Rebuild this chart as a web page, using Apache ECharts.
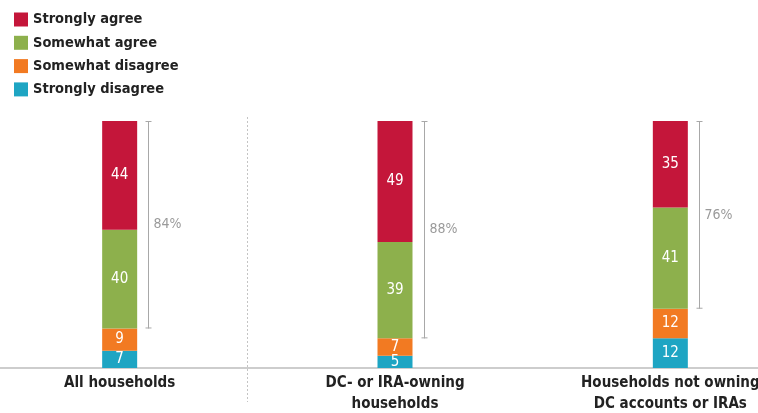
<!DOCTYPE html>
<html>
<head>
<meta charset="utf-8">
<script src="https://cdn.jsdelivr.net/npm/echarts@6/dist/echarts.min.js"></script>
<style>
html,body{margin:0;padding:0;background:#fff;}
#chart{width:758px;height:413px;}
</style>
</head>
<body>
<div id="chart"></div>
<script>
const categories = ['All households', 'DC- or IRA-owning\nhouseholds', 'Households not owning\nDC accounts or IRAs'];
const stronglyAgree = [44, 49, 35];
const somewhatAgree = [40, 39, 41];
const somewhatDisagree = [9, 7, 12];
const stronglyDisagree = [7, 5, 12];
const seriesNames = ['Strongly agree', 'Somewhat agree', 'Somewhat disagree', 'Strongly disagree'];
const colors = {
  'Strongly agree': '#C4163A',
  'Somewhat agree': '#8DB04C',
  'Somewhat disagree': '#F27A22',
  'Strongly disagree': '#1EA5C3'
};

const FONT = '"Liberation Sans Narrow", "DejaVu Sans Condensed", "Roboto", sans-serif';
const BAR_W = 35;

const agreeTotals = stronglyAgree.map((v, i) => v + somewhatAgree[i]);
const bracketData = categories.map((c, i) => [i, 100, 100 - agreeTotals[i], agreeTotals[i] + '%']);

function barSeries(name, data) {
  return {
    name: name,
    type: 'bar',
    stack: 'total',
    barWidth: BAR_W,
    data: data,
    itemStyle: { color: colors[name] },
    label: {
      show: true,
      position: 'inside',
      color: '#fff',
      fontSize: 15,
      fontFamily: FONT,
      formatter: '{c}'
    },
    emphasis: { disabled: true }
  };
}

const chart = echarts.init(document.getElementById('chart'));
chart.setOption({
  animation: false,
  backgroundColor: '#fff',
  legend: {
    data: seriesNames,
    orient: 'vertical',
    left: 9,
    top: 7,
    itemWidth: 14,
    itemHeight: 14,
    itemGap: 8.3,
    icon: 'rect',
    selectedMode: false,
    textStyle: { fontSize: 14.5, color: '#222', fontFamily: FONT, fontWeight: 'bold' }
  },
  grid: { left: -18, width: 826, top: 121, bottom: 45, outerBoundsMode: 'none' },
  xAxis: {
    type: 'category',
    data: categories,
    axisLine: { lineStyle: { color: '#bdbdbd', width: 1.5 } },
    axisTick: { show: false },
    axisLabel: {
      color: '#222',
      fontSize: 15,
      fontFamily: FONT,
      fontWeight: 'bold',
      lineHeight: 21,
      margin: 5,
      interval: 0
    }
  },
  yAxis: { type: 'value', min: 0, max: 100, show: false, splitLine: { show: false } },
  series: [
    barSeries('Strongly disagree', stronglyDisagree),
    barSeries('Somewhat disagree', somewhatDisagree),
    barSeries('Somewhat agree', somewhatAgree),
    barSeries('Strongly agree', stronglyAgree),
    {
      type: 'custom',
      name: 'bracket',
      data: bracketData,
      silent: true,
      z: 5,
      renderItem: function (params, api) {
        const top = api.coord([api.value(0), api.value(1)]);
        const bot = api.coord([api.value(0), api.value(2)]);
        const x = Math.round(top[0] + BAR_W / 2 + 11) + 0.5;
        const st = { stroke: '#a8a8a8', lineWidth: 1 };
        return {
          type: 'group',
          children: [
            { type: 'line', shape: { x1: x, y1: top[1], x2: x, y2: bot[1] }, style: st },
            { type: 'line', shape: { x1: x - 3, y1: top[1] + 0.5, x2: x + 3, y2: top[1] + 0.5 }, style: st },
            { type: 'line', shape: { x1: x - 3, y1: bot[1] - 0.5, x2: x + 3, y2: bot[1] - 0.5 }, style: st },
            {
              type: 'text',
              style: {
                text: bracketData[params.dataIndex][3],
                x: x + 5,
                y: (top[1] + bot[1]) / 2,
                fill: '#9a9a9a',
                fontSize: 14,
                fontFamily: FONT,
                verticalAlign: 'middle',
                align: 'left'
              }
            }
          ]
        };
      }
    },
    {
      type: 'custom',
      name: 'divider',
      data: [[0, 1]],
      silent: true,
      z: 1,
      renderItem: function (params, api) {
        const a = api.coord([api.value(0), 100]);
        const b = api.coord([api.value(1), 0]);
        const x = Math.round((a[0] + b[0]) / 2 - 10) + 0.5;
        return {
          type: 'line',
          shape: { x1: x, y1: a[1] - 4, x2: x, y2: b[1] + 34 },
          style: { stroke: '#c4c4c4', lineWidth: 1, lineDash: [2, 2] }
        };
      }
    }
  ]
});
</script>
</body>
</html>
